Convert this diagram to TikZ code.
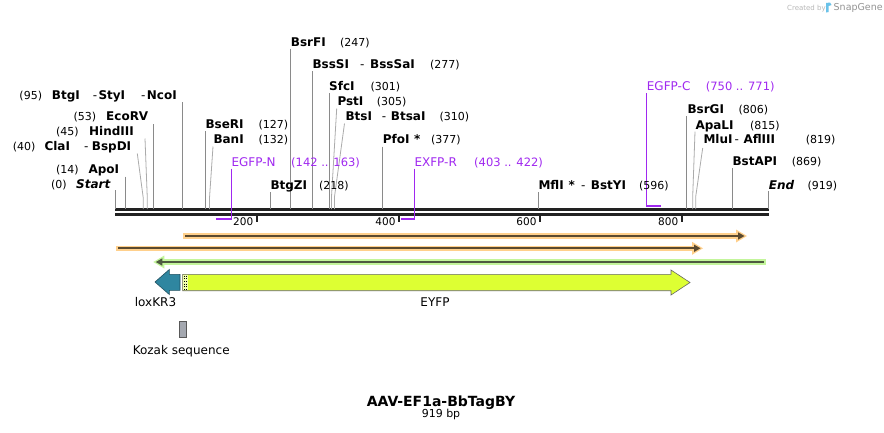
\documentclass[tikz,border=0pt]{standalone}
\usepackage{fontspec}
\setmainfont{DejaVu Sans}
\definecolor{enzgray}{HTML}{8A8A8A}
\definecolor{enzlight}{HTML}{ABABAB}
\definecolor{purp}{RGB}{160,40,240}
\definecolor{orgband}{HTML}{FFD08C}
\definecolor{orgdark}{HTML}{5A4A30}
\definecolor{grnband}{HTML}{C3F59B}
\definecolor{grndark}{HTML}{4E5A40}
\definecolor{tealc}{HTML}{2F86A0}
\definecolor{tealb}{HTML}{1F4F5F}
\definecolor{eyfpc}{HTML}{DDFF33}
\definecolor{kozakc}{HTML}{A4A8B0}
\definecolor{rulerc}{HTML}{222222}
\definecolor{sgblue}{HTML}{2AA8E0}
\tikzset{
  nm/.style={anchor=base west, inner sep=0pt, font=\fontsize{12}{14}\selectfont\bfseries},
  nmi/.style={anchor=base west, inner sep=0pt, font=\fontsize{12}{14}\selectfont\bfseries\itshape},
  num/.style={anchor=base west, inner sep=0pt, font=\fontsize{11}{13}\selectfont},
  dsh/.style={anchor=base west, inner sep=0pt, font=\fontsize{12}{14}\selectfont},
  prm/.style={anchor=base west, inner sep=0pt, text=purp, font=\fontsize{12}{14}\selectfont},
  prmn/.style={anchor=base west, inner sep=0pt, text=purp, font=\fontsize{11.5}{13}\selectfont},
  tick/.style={anchor=base east, inner sep=0pt, font=\fontsize{10.5}{12}\selectfont},
  feat/.style={anchor=base, inner sep=0pt, font=\fontsize{12}{14}\selectfont},
  enz/.style={draw=enzgray, line width=0.8pt},
  enza/.style={draw=enzlight, line width=0.8pt},
  prml/.style={draw=purp, line width=1.3pt},
  prmb/.style={draw=purp, line width=2pt},
}
\begin{document}
\begin{tikzpicture}[x=1pt,y=-1pt]
\useasboundingbox (0,0) rectangle (884,432);
\fill[white] (0,0) rectangle (884,432);

% ---------- ruler ----------
\coordinate (r0) at (115,209.5);
\coordinate (r1) at (769,209.5);
\coordinate (s0) at (115,214.5);
\coordinate (s1) at (769,214.5);
\draw[rulerc, line width=2.5pt] (r0) -- (r1);
\draw[rulerc, line width=2.5pt] (s0) -- (s1);
\foreach \xx/\lab in {256.7/200, 399/400, 540/600, 681.7/800}{
  \draw[rulerc, line width=2pt] (\xx,215) -- (\xx,222);
  \node[tick] (t\lab) at (\xx-3.3,225.5) {\lab};
}

% ---------- enzyme lines ----------
\draw[enz] (115.5,190) -- (115.5,209);
\draw[enz] (125.7,176.5) -- (125.7,209);
\draw[enza] (137.3,153.5) -- (143.3,198.3) -- (143.3,209);
\draw[enza] (145,138.5) -- (147.3,198.3) -- (147.3,209);
\draw[enz] (153.3,124) -- (153.3,209);
\draw[enz] (182.3,102) -- (182.3,209);
\draw[enz] (205.5,131) -- (205.5,209);
\draw[enza] (213,146.5) -- (209.5,198) -- (209.5,209);
\draw[enz] (270.5,192) -- (270.5,209);
\draw[enz] (290.7,48.5) -- (290.7,209);
\draw[enz] (312.5,71) -- (312.5,209);
\draw[enz] (329.3,93) -- (329.3,209);
\draw[enza] (336.7,108.5) -- (331.5,196.7) -- (331.5,209);
\draw[enza] (344.5,123.5) -- (334.5,196.7) -- (334.5,209);
\draw[enz] (382.7,146.5) -- (382.7,209);
\draw[enz] (538.5,192) -- (538.5,209);
\draw[enz] (686.7,116) -- (686.7,209);
\draw[enza] (695,131.7) -- (692.7,196.7) -- (692.7,209);
\draw[enza] (702.7,148) -- (695.7,196.7) -- (695.7,209);
\draw[enz] (732.5,168) -- (732.5,209);
\draw[enz] (768.5,191) -- (768.5,209);

% ---------- primers ----------
\draw[prml] (231.7,168.5) -- (231.7,219);
\draw[prmb] (216,219) -- (232.3,219);
\draw[prml] (414.3,168.5) -- (414.3,218.5);
\draw[prmb] (401,218.5) -- (414.9,218.5);
\draw[prml] (646.7,93) -- (646.7,205.7);
\draw[prmb] (646.1,205.7) -- (660.7,205.7);

% ---------- left labels ----------
\node[num] (n95) at (19.3,99) {(95)};
\node[nm] (btgi) at (51.7,99) {BtgI};
\node[dsh] (d1) at (92.7,99) {-};
\node[nm] (styi) at (98.3,99) {StyI};
\node[dsh] (d2) at (141,99) {-};
\node[nm] (ncoi) at (146.7,99) {NcoI};

\node[num] (n53) at (73.3,120.7) {(53)};
\node[nm] (ecorv) at (106,120.7) {EcoRV};

\node[num] (n45) at (56,135.7) {(45)};
\node[nm] (hind) at (89,135.7) {HindIII};

\node[num] (n40) at (12.7,150.7) {(40)};
\node[nm] (clai) at (44.3,150.7) {ClaI};
\node[dsh] (d3) at (84,150.7) {-};
\node[nm] (bspdi) at (91.7,150.7) {BspDI};

\node[num] (n14) at (56,173.3) {(14)};
\node[nm] (apoi) at (88.3,173.3) {ApoI};

\node[num] (n0) at (51,188.7) {(0)};
\node[nmi] (start) at (76,188.7) {Start};

% ---------- middle labels ----------
\node[nm] (bseri) at (205.3,128.3) {BseRI};
\node[num] (n127) at (258.3,128.3) {(127)};
\node[nm] (bani) at (213.3,143.3) {BanI};
\node[num] (n132) at (258.3,143.3) {(132)};
\node[prm] (egfpn) at (231.3,166) {EGFP-N};
\node[prmn] (n142) at (291,166) {(142 .. 163)};
\node[nm] (btgzi) at (270.3,189) {BtgZI};
\node[num] (n218) at (319,189) {(218)};
\node[nm] (bsrfi) at (290.7,46) {BsrFI};
\node[num] (n247) at (340,46) {(247)};
\node[nm] (bsssi) at (312.3,68.5) {BssSI};
\node[dsh] (d4) at (360,68.5) {-};
\node[nm] (bsssai) at (370,68.5) {BssSaI};
\node[num] (n277) at (430,68.5) {(277)};
\node[nm] (sfci) at (329,90.7) {SfcI};
\node[num] (n301) at (370.3,90.7) {(301)};
\node[nm] (psti) at (337.3,105.3) {PstI};
\node[num] (n305) at (376.7,105.3) {(305)};
\node[nm] (btsi) at (345.3,120.7) {BtsI};
\node[dsh] (d5) at (381.7,120.7) {-};
\node[nm] (btsai) at (390.7,120.7) {BtsaI};
\node[num] (n310) at (439.3,120.7) {(310)};
\node[nm] (pfoi) at (382.7,143.3) {PfoI};
\node[nm] (st1) at (414,143.3) {*};
\node[num] (n377) at (431,143.3) {(377)};
\node[prm] (exfpr) at (414.3,166) {EXFP-R};
\node[prmn] (n403) at (474,166) {(403 .. 422)};

% ---------- right labels ----------
\node[nm] (mfli) at (538.3,189) {MflI};
\node[nm] (st2) at (568.3,189) {*};
\node[dsh] (d6) at (581,189) {-};
\node[nm] (bstyi) at (590.7,189) {BstYI};
\node[num] (n596) at (639,189) {(596)};
\node[prm] (egfpc) at (646.7,90.7) {EGFP-C};
\node[prmn] (n750) at (705.7,90.7) {(750 .. 771)};
\node[nm] (bsrgi) at (687.3,113.3) {BsrGI};
\node[num] (n806) at (738.3,113.3) {(806)};
\node[nm] (apali) at (695.3,129) {ApaLI};
\node[num] (n815) at (750,129) {(815)};
\node[nm] (mlui) at (703.3,143.3) {MluI};
\node[dsh] (d7) at (734.3,143.3) {-};
\node[nm] (afliii) at (743.3,143.3) {AflIII};
\node[num] (n819) at (805.7,143.3) {(819)};
\node[nm] (bstapi) at (732.3,165.7) {BstAPI};
\node[num] (n869) at (791.7,165.7) {(869)};
\node[nmi] (endl) at (768.7,189) {End};
\node[num] (n919) at (807.3,189) {(919)};

% ---------- feature lines ----------
% orange 1 (forward)
\draw[orgband, line width=5.5pt] (183.3,236) -- (738,236);
\fill[orgband] (736,229.5) -- (747,236) -- (736,242.5) -- cycle;
\draw[orgdark, line width=2pt] (185,236) -- (740,236);
\fill[orgdark] (738,232.3) -- (744.5,236) -- (738,239.7) -- cycle;
% orange 2 (forward)
\draw[orgband, line width=5.5pt] (116,248.3) -- (694,248.3);
\fill[orgband] (692,241.8) -- (703,248.3) -- (692,254.8) -- cycle;
\draw[orgdark, line width=2pt] (118,248.3) -- (696,248.3);
\fill[orgdark] (694,244.6) -- (700.5,248.3) -- (694,252) -- cycle;
% green (reverse)
\draw[grnband, line width=5.5pt] (161,262) -- (766,262);
\fill[grnband] (164.3,255.5) -- (153.3,262) -- (164.3,268.5) -- cycle;
\draw[grndark, line width=2pt] (160,262) -- (764,262);
\fill[grndark] (162.3,258.3) -- (155.8,262) -- (162.3,265.7) -- cycle;

% ---------- features ----------
\filldraw[fill=tealc, draw=tealb, line width=0.6pt]
  (155,282) -- (169.3,269.5) -- (169.3,274.3) -- (180,274.3) -- (180,290.3)
  -- (169.3,290.3) -- (169.3,294.5) -- cycle;
\node[feat] (lox) at (155.5,306.7) {loxKR3};

\filldraw[fill=eyfpc, draw=black!60, line width=0.6pt]
  (182.7,274.3) -- (671,274.3) -- (671,270) -- (690,282.5) -- (671,295)
  -- (671,290.7) -- (182.7,290.7) -- cycle;
\fill[eyfpc!40] (183.2,274.8) rectangle (188.3,290.2);
\draw[black, line width=0.7pt, dotted] (184.6,275.5) -- (184.6,290);
\draw[black, line width=0.7pt, dotted] (186.8,275.5) -- (186.8,290);
\node[feat] (eyfp) at (435,306.7) {EYFP};

\filldraw[fill=kozakc, draw=black!65, line width=0.6pt] (179.3,321) rectangle (186.7,337.3);
\node[feat] (kozak) at (181.2,354) {Kozak sequence};

% ---------- title ----------
\node[anchor=base, inner sep=0pt, font=\fontsize{14}{16}\selectfont\bfseries] (title) at (441,406) {AAV-EF1a-BbTagBY};
\node[anchor=base, inner sep=0pt, font=\fontsize{11}{13}\selectfont] (bp) at (441,417.5) {919 bp};

% ---------- watermark ----------
\node[anchor=base west, inner sep=0pt, text=black!28, font=\fontsize{7}{8}\selectfont] (cby) at (787,10) {Created by};
\fill[sgblue!70] (826,3) -- (830,2.5) -- (831.5,5) -- (828.5,6) -- (828.5,12) -- (826,12.5) -- cycle;
\node[anchor=base west, inner sep=0pt, text=black!42, font=\fontsize{9.5}{10}\selectfont] (sg) at (833.5,10.5) {SnapGene};
\end{tikzpicture}
\end{document}
